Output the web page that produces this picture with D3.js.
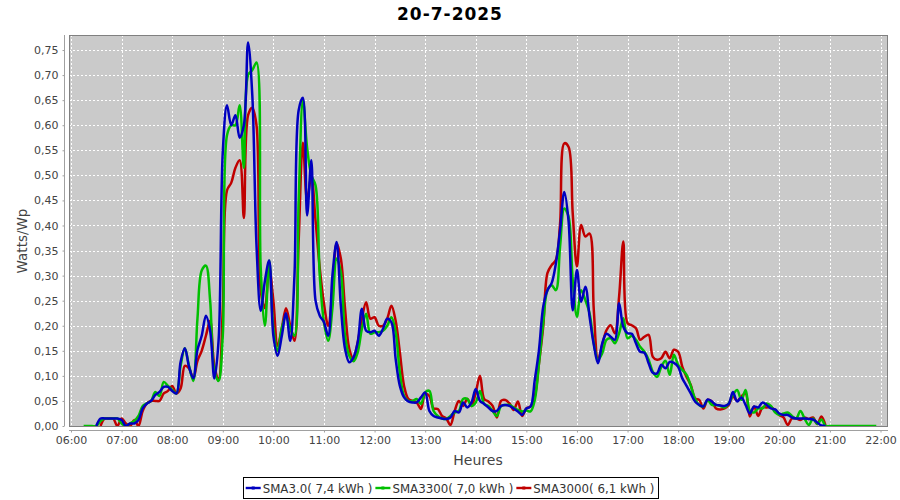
<!DOCTYPE html>
<html>
<head>
<meta charset="utf-8">
<script src="https://cdn.jsdelivr.net/npm/d3@7"></script>
<style>
  html, body { margin: 0; padding: 0; background: #ffffff; }
  svg { display: block; font-family: "DejaVu Sans", sans-serif; }
</style>
</head>
<body>
<svg id="chart" width="900" height="500"></svg>
<script>
// ---------------- DATA ----------------
const title = "20-7-2025";
const yLabel = "Watts/Wp";
const xLabel = "Heures";
const seriesNames = ["SMA3.0( 7,4 kWh )", "SMA3300( 7,0 kWh )", "SMA3000( 6,1 kWh )"];
const seriesColors = ["#0000c0", "#00c000", "#c00000"];
const startTime = "06:15";      // first sample, 5-minute samples
const stepMinutes = 5;
const xTickLabels = ["06:00","07:00","08:00","09:00","10:00","11:00","12:00","13:00","14:00",
                     "15:00","16:00","17:00","18:00","19:00","20:00","21:00","22:00"];
const yTicks = [0,0.05,0.10,0.15,0.20,0.25,0.30,0.35,0.40,0.45,0.50,0.55,0.60,0.65,0.70,0.75];

// SMA3.0 (blue)
const sma30 = [
  null, null, null, 0, 0.015, 0.015, 0.015, 0.015, 0.015,
  0.012, 0.0, 0.005, 0.005, 0.012, 0.035, 0.045, 0.05, 0.062, 0.068, 0.078, 0.078,
  0.07, 0.065, 0.128, 0.155, 0.118, 0.095, 0.152, 0.18, 0.22, 0.19, 0.095, 0.17,
  0.547, 0.64, 0.60, 0.62, 0.575, 0.60, 0.765, 0.66, 0.36, 0.23, 0.29, 0.33,
  0.18, 0.14, 0.18, 0.225, 0.17, 0.30, 0.63, 0.655, 0.42, 0.53, 0.25, 0.22,
  0.207, 0.18, 0.30, 0.367, 0.24, 0.154, 0.127, 0.137, 0.167, 0.234, 0.19, 0.187,
  0.19, 0.18, 0.194, 0.214, 0.207, 0.134, 0.08, 0.057, 0.049, 0.047, 0.047, 0.057,
  0.067, 0.03, 0.02, 0.017, 0.015, 0.014, 0.017, 0.03, 0.027, 0.047, 0.037, 0.047,
  0.074, 0.05, 0.044, 0.037, 0.03, 0.03, 0.04, 0.042, 0.04, 0.035, 0.029, 0.022,
  0.035, 0.039, 0.092, 0.152, 0.238, 0.271, 0.285, 0.324, 0.391, 0.467, 0.41, 0.231,
  0.311, 0.248, 0.278, 0.218, 0.162, 0.125, 0.165, 0.184, 0.178, 0.172, 0.245, 0.198,
  0.185, 0.184, 0.165, 0.148, 0.146, 0.125, 0.106, 0.105, 0.122, 0.115, 0.128, 0.126,
  0.118, 0.095, 0.08, 0.065, 0.049, 0.042, 0.039, 0.053, 0.049, 0.042, 0.041, 0.04,
  0.044, 0.068, 0.049, 0.057, 0.042, 0.025, 0.039, 0.037, 0.047, 0.042, 0.035, 0.033,
  0.025, 0.022, 0.022, 0.017, 0.015, 0.015, 0.015, 0.014, 0.013, 0.007, 0.001, 0,
  null, null, null, null, null, null, null, null, null, null, null, null
];
// SMA3300 (green)
const sma3300 = [
  0, 0, 0, 0, 0.01, 0.015, 0.015, 0.015, 0.015,
  0.005, 0, 0.005, 0.01, 0.02, 0.04, 0.045, 0.05, 0.068, 0.06, 0.088, 0.08,
  0.072, 0.065, 0.12, 0.155, 0.12, 0.09, 0.215, 0.31, 0.32, 0.25, 0.11, 0.09,
  0.18, 0.58, 0.60, 0.60, 0.64, 0.515, 0.70, 0.71, 0.725, 0.315, 0.20, 0.33,
  0.195, 0.15, 0.195, 0.22, 0.195, 0.18, 0.45, 0.65, 0.555, 0.50, 0.48, 0.30,
  0.207, 0.17, 0.234, 0.334, 0.307, 0.18, 0.14, 0.129, 0.147, 0.194, 0.224, 0.184,
  0.187, 0.187, 0.19, 0.2, 0.217, 0.187, 0.107, 0.06, 0.05, 0.05, 0.054, 0.044,
  0.067, 0.07, 0.03, 0.02, 0.015, 0.014, 0.02, 0.027, 0.03, 0.054, 0.054, 0.04,
  0.047, 0.07, 0.044, 0.04, 0.03, 0.02, 0.04, 0.042, 0.042, 0.037, 0.032, 0.029,
  0.031, 0.029, 0.052, 0.125, 0.205, 0.271, 0.281, 0.271, 0.358, 0.434, 0.418, 0.291,
  0.218, 0.271, 0.251, 0.225, 0.165, 0.132, 0.145, 0.172, 0.175, 0.165, 0.185, 0.215,
  0.175, 0.18, 0.172, 0.158, 0.148, 0.132, 0.108, 0.098, 0.118, 0.13, 0.102, 0.142,
  0.122, 0.112, 0.102, 0.08, 0.055, 0.042, 0.039, 0.052, 0.042, 0.042, 0.04, 0.037,
  0.045, 0.062, 0.072, 0.052, 0.072, 0.031, 0.027, 0.035, 0.035, 0.045, 0.04, 0.027,
  0.022, 0.025, 0.027, 0.02, 0.015, 0.03, 0.015, 0.002, 0.015, 0.004, 0.013, 0,
  0, 0, 0, 0, 0, 0, 0, 0, 0, 0, 0, 0
];
// SMA3000 (red)
const sma3000 = [
  null, null, null, null, 0, 0.015, 0.015, 0.015, 0.0,
  0.015, 0.005, 0.0, 0.012, 0.0, 0.03, 0.045, 0.05, 0.05, 0.05, 0.065, 0.07,
  0.08, 0.065, 0.075, 0.12, 0.115, 0.095, 0.13, 0.15, 0.18, 0.21, 0.12, 0.095,
  0.235, 0.47, 0.485, 0.515, 0.53, 0.415, 0.62, 0.635, 0.60, 0.27, 0.235, 0.315,
  0.25, 0.16, 0.195, 0.235, 0.20, 0.17, 0.37, 0.565, 0.45, 0.50, 0.41, 0.315,
  0.244, 0.2, 0.267, 0.364, 0.334, 0.234, 0.154, 0.134, 0.167, 0.214, 0.247, 0.214,
  0.217, 0.2, 0.2, 0.214, 0.24, 0.21, 0.147, 0.08, 0.054, 0.05, 0.047, 0.034,
  0.064, 0.06, 0.035, 0.034, 0.02, 0.015, 0.002, 0.03, 0.05, 0.04, 0.054, 0.04,
  0.067, 0.1, 0.054, 0.049, 0.04, 0.017, 0.05, 0.052, 0.045, 0.032, 0.049, 0.02,
  0.035, 0.039, 0.059, 0.125, 0.198, 0.305, 0.321, 0.331, 0.404, 0.564, 0.557, 0.424,
  0.318, 0.401, 0.378, 0.384, 0.231, 0.132, 0.162, 0.191, 0.201, 0.185, 0.258, 0.368,
  0.205, 0.201, 0.195, 0.172, 0.178, 0.182, 0.138, 0.132, 0.135, 0.148, 0.135, 0.152,
  0.148, 0.118, 0.098, 0.082, 0.055, 0.052, 0.035, 0.052, 0.049, 0.035, 0.033, 0.035,
  0.042, 0.059, 0.05, 0.059, 0.065, 0.019, 0.039, 0.02, 0.037, 0.037, 0.037, 0.032,
  0.022, 0.017, 0.002, 0.015, 0.015, 0.012, 0.017, 0.014, 0.017, 0.004, 0.019, 0,
  null, null, null, null, null, null, null, null, null, null, null, null
];
const seriesValues = [sma30, sma3300, sma3000];

// ---------------- CHART ----------------
const svg = d3.select("#chart");
const plot = { left: 69, top: 35, right: 888, bottom: 426 };

const parseHM = d3.timeParse("%Y-%m-%d %H:%M");
const day = "2025-07-20 ";
const t0 = parseHM(day + startTime);
const times = seriesValues[1].map((_, i) => d3.timeMinute.offset(t0, i * stepMinutes));
const tickDates = xTickLabels.map(s => parseHM(day + s));

const x = d3.scaleTime()
  .domain([tickDates[0], tickDates[tickDates.length - 1]])
  .range([71, 880.5]);
const y = d3.scaleLinear().domain([0, 0.78]).range([plot.bottom, plot.top]);

// title
svg.append("text")
  .attr("x", 450).attr("y", 19.5)
  .attr("text-anchor", "middle")
  .style("font-size", "17px").style("font-weight", "bold")
  .style("letter-spacing", "1px")
  .attr("fill", "#000")
  .text(title);

// plot background
svg.append("rect")
  .attr("x", plot.left).attr("y", plot.top)
  .attr("width", plot.right - plot.left).attr("height", plot.bottom - plot.top)
  .attr("fill", "#cacaca");

// gridlines
const grid = svg.append("g").attr("stroke", "#ffffff").attr("stroke-width", 1)
  .attr("stroke-dasharray", "2,2");
tickDates.forEach(d => {
  const xx = Math.round(x(d)) + 0.5;
  grid.append("line").attr("x1", xx).attr("x2", xx)
    .attr("y1", plot.top).attr("y2", plot.bottom);
});
yTicks.forEach(v => {
  const yy = Math.round(y(v)) + 0.5;
  grid.append("line").attr("x1", plot.left).attr("x2", plot.right)
    .attr("y1", yy).attr("y2", yy);
});

// clip
svg.append("clipPath").attr("id", "clip").append("rect")
  .attr("x", plot.left).attr("y", plot.top)
  .attr("width", plot.right - plot.left).attr("height", plot.bottom - plot.top);

const line = d3.line()
  .defined(d => d.v !== null)
  .x(d => x(d.t)).y(d => y(d.v))
  .curve(d3.curveCatmullRom.alpha(0.5));

const linesG = svg.append("g").attr("clip-path", "url(#clip)");
[2, 1, 0].forEach(si => {
  const data = seriesValues[si].map((v, i) => ({ t: times[i], v: v }));
  linesG.append("path")
    .datum(data)
    .attr("fill", "none")
    .attr("stroke", seriesColors[si])
    .attr("stroke-width", 2.5)
    .attr("stroke-linejoin", "round")
    .attr("d", line);
});

// plot outline
svg.append("rect")
  .attr("x", plot.left + 0.5).attr("y", plot.top + 0.5)
  .attr("width", plot.right - plot.left - 1).attr("height", plot.bottom - plot.top)
  .attr("fill", "none").attr("stroke", "#808080").attr("stroke-width", 1);

// axes
const yAxis = d3.axisLeft(y)
  .tickValues(yTicks)
  .tickSizeInner(2).tickSizeOuter(0).tickPadding(4)
  .tickFormat(v => d3.format(".2f")(v).replace(".", ","));
const gy = svg.append("g").attr("transform", "translate(64.5,0)").call(yAxis);
gy.select(".domain").attr("stroke", "#a0a0a0").attr("d", `M0,${plot.top}V${plot.bottom}`);
gy.selectAll(".tick line").attr("stroke", "#a0a0a0");
gy.selectAll("text").style("font-size", "11px").attr("fill", "#444");
gy.attr("font-family", null);

const xAxis = d3.axisBottom(x)
  .tickValues(tickDates)
  .tickSizeInner(2).tickSizeOuter(0).tickPadding(4)
  .tickFormat((d, i) => xTickLabels[i]);
const gx = svg.append("g").attr("transform", "translate(0,430.5)").call(xAxis);
gx.select(".domain").attr("stroke", "#a0a0a0").attr("d", `M${plot.left},0H${plot.right}`);
gx.selectAll(".tick line").attr("stroke", "#a0a0a0");
gx.selectAll("text").style("font-size", "11px").attr("fill", "#444");
gx.attr("font-family", null);

// axis labels
svg.append("text")
  .attr("transform", "translate(27,241) rotate(-90)")
  .attr("text-anchor", "middle")
  .style("font-size", "13.5px").attr("fill", "#444")
  .text(yLabel);
svg.append("text")
  .attr("x", 478).attr("y", 465)
  .attr("text-anchor", "middle")
  .style("font-size", "14px").attr("fill", "#444")
  .text(xLabel);

// legend
const legend = svg.append("g");
const legendBox = legend.append("rect").attr("fill", "#fff").attr("stroke", "#000").attr("stroke-width", 1);
const itemsG = legend.append("g");
let cx = 0;
seriesNames.forEach((name, i) => {
  const g = itemsG.append("g").attr("transform", `translate(${cx},0)`);
  g.append("line").attr("x1", 0).attr("x2", 15).attr("y1", 0).attr("y2", 0)
    .attr("stroke", seriesColors[i]).attr("stroke-width", 2.4);
  g.append("rect").attr("x", 6).attr("y", -1.5).attr("width", 3).attr("height", 3)
    .attr("fill", seriesColors[i]);
  const t = g.append("text").attr("x", 17).attr("y", 4.5)
    .style("font-size", "11.8px").attr("fill", "#333").text(name);
  cx += 17 + t.node().getComputedTextLength() + 3;
});
const totalW = cx - 3;
const lx = 450 - totalW / 2;
itemsG.attr("transform", `translate(${lx},488)`);
legendBox.attr("x", Math.round(lx - 3) + 0.5).attr("y", 477.5)
  .attr("width", Math.round(totalW + 6)).attr("height", 21);
</script>
</body>
</html>
